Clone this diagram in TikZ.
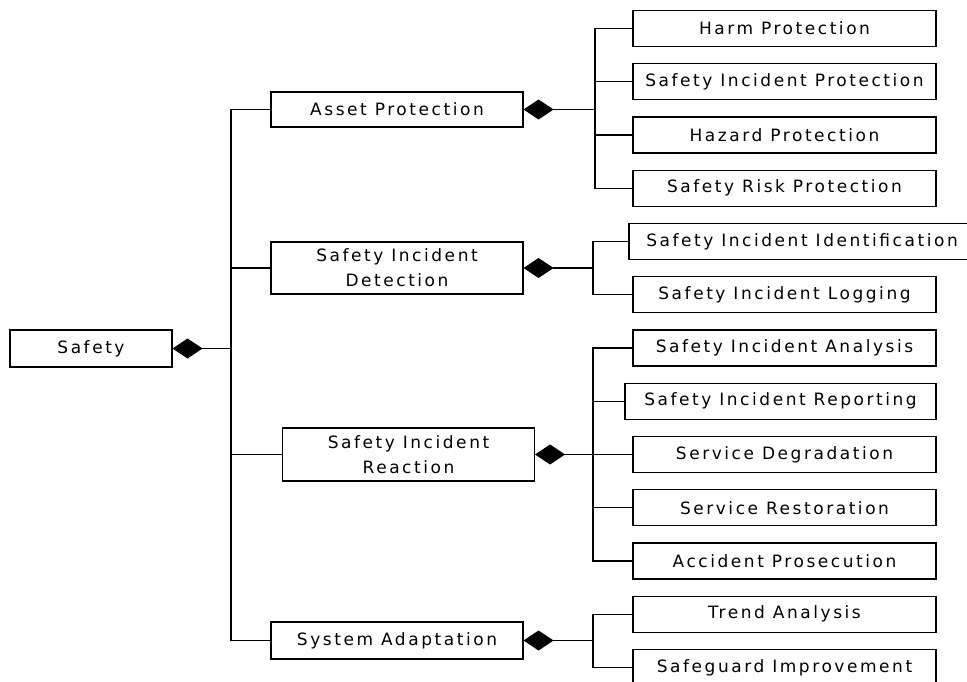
\documentclass[tikz,border=0pt]{standalone}
\usepackage{fontspec}
\setmainfont{DejaVu Sans}[LetterSpace=15]
\usepackage{tikz}
\usetikzlibrary{arrows.meta}
\usetikzlibrary{positioning}
\tikzset{box/.style={draw, rectangle, align=center,
    inner sep=0pt, font=\fontsize{17}{25}\selectfont}}

\begin{document}
\begin{tikzpicture}[x=1pt, y=-1pt,
      >={Diamond[length=30pt,width=20pt]},
      line width=1.1pt,
      node distance=53.25pt,
      on grid,
      mid/.style={box, minimum width=252pt},
      leaf/.style={box, minimum width=303pt, minimum height=36pt}]

    \clip (0,0) rectangle (967,682);

    \node[box, minimum width=162pt, minimum height=37pt]
      (Safety) at (91,348.5) {Safety};

    \node[mid, minimum height=35pt]
      (Asset) at (397,109.5) {Asset Protection};
    \node[mid, minimum height=52pt]
      (Detection) at (397,268) {Safety Incident\\Detection};
    \node[mid, minimum height=53pt]
      (Reaction) at (408.5,454.5) {Safety Incident\\Reaction};
    \node[mid, minimum height=37pt]
      (Adaptation) at (397,640.5) {System Adaptation};

    \node[leaf]
      (Harm) at (784.5,28.5) {Harm Protection};
    \node[leaf]
      (IncidentProt) [below=of Harm] {Safety Incident Protection};
    \node[leaf]
      (Hazard) [below=of IncidentProt] {Hazard Protection};
    \node[leaf]
      (Risk) [below=of Hazard] {Safety Risk Protection};
    \node[leaf, minimum width=346pt]
      (Identification) [below=of Risk, xshift=17.5pt] {Safety Incident Identification};
    \node[leaf]
      (Logging) [below=of Identification, xshift=-17.5pt] {Safety Incident Logging};
    \node[leaf]
      (Analysis) [below=of Logging] {Safety Incident Analysis};
    \node[leaf, minimum width=311pt]
      (Reporting) [below=of Analysis, xshift=-4pt] {Safety Incident Reporting};
    \node[leaf]
      (Degradation) [below=of Reporting, xshift=4pt] {Service Degradation};
    \node[leaf]
      (Restoration) [below=of Degradation] {Service Restoration};
    \node[leaf]
      (Prosecution) [below=of Restoration] {Accident Prosecution};
    \node[leaf]
      (Trend) [below=of Prosecution] {Trend Analysis};
    \node[leaf]
      (Safeguard) [below=of Trend] {Safeguard Improvement};

    \coordinate (Trunk) at (231,348.5);
    \coordinate (AssetBus) at (595,109.5);
    \coordinate (DetectionBus) at (593,268);
    \coordinate (ReactionBus) at (593,454.5);
    \coordinate (AdaptationBus) at (593,640.5);

    % whole-part links
    \draw[<-] (Safety) -- (Trunk);
    \draw[<-] (Asset) -- (AssetBus);
    \draw[<-] (Detection) -- (DetectionBus);
    \draw[<-] (Reaction) -- (ReactionBus);
    \draw[<-] (Adaptation) -- (AdaptationBus);

    \draw (Trunk) |- (Asset);
    \draw (Trunk) |- (Detection);
    \draw (Trunk) |- (Reaction);
    \draw (Trunk) |- (Adaptation);

    \draw (AssetBus) |- (Harm);
    \draw (AssetBus) |- (IncidentProt);
    \draw (AssetBus) |- (Hazard);
    \draw (AssetBus) |- (Risk);

    \draw (DetectionBus) |- (Identification);
    \draw (DetectionBus) |- (Logging);

    \draw (ReactionBus) |- (Analysis);
    \draw (ReactionBus) |- (Reporting);
    \draw (ReactionBus) |- (Degradation);
    \draw (ReactionBus) |- (Restoration);
    \draw (ReactionBus) |- (Prosecution);

    \draw (AdaptationBus) |- (Trend);
    \draw (AdaptationBus) |- (Safeguard);

  \end{tikzpicture}
\end{document}
